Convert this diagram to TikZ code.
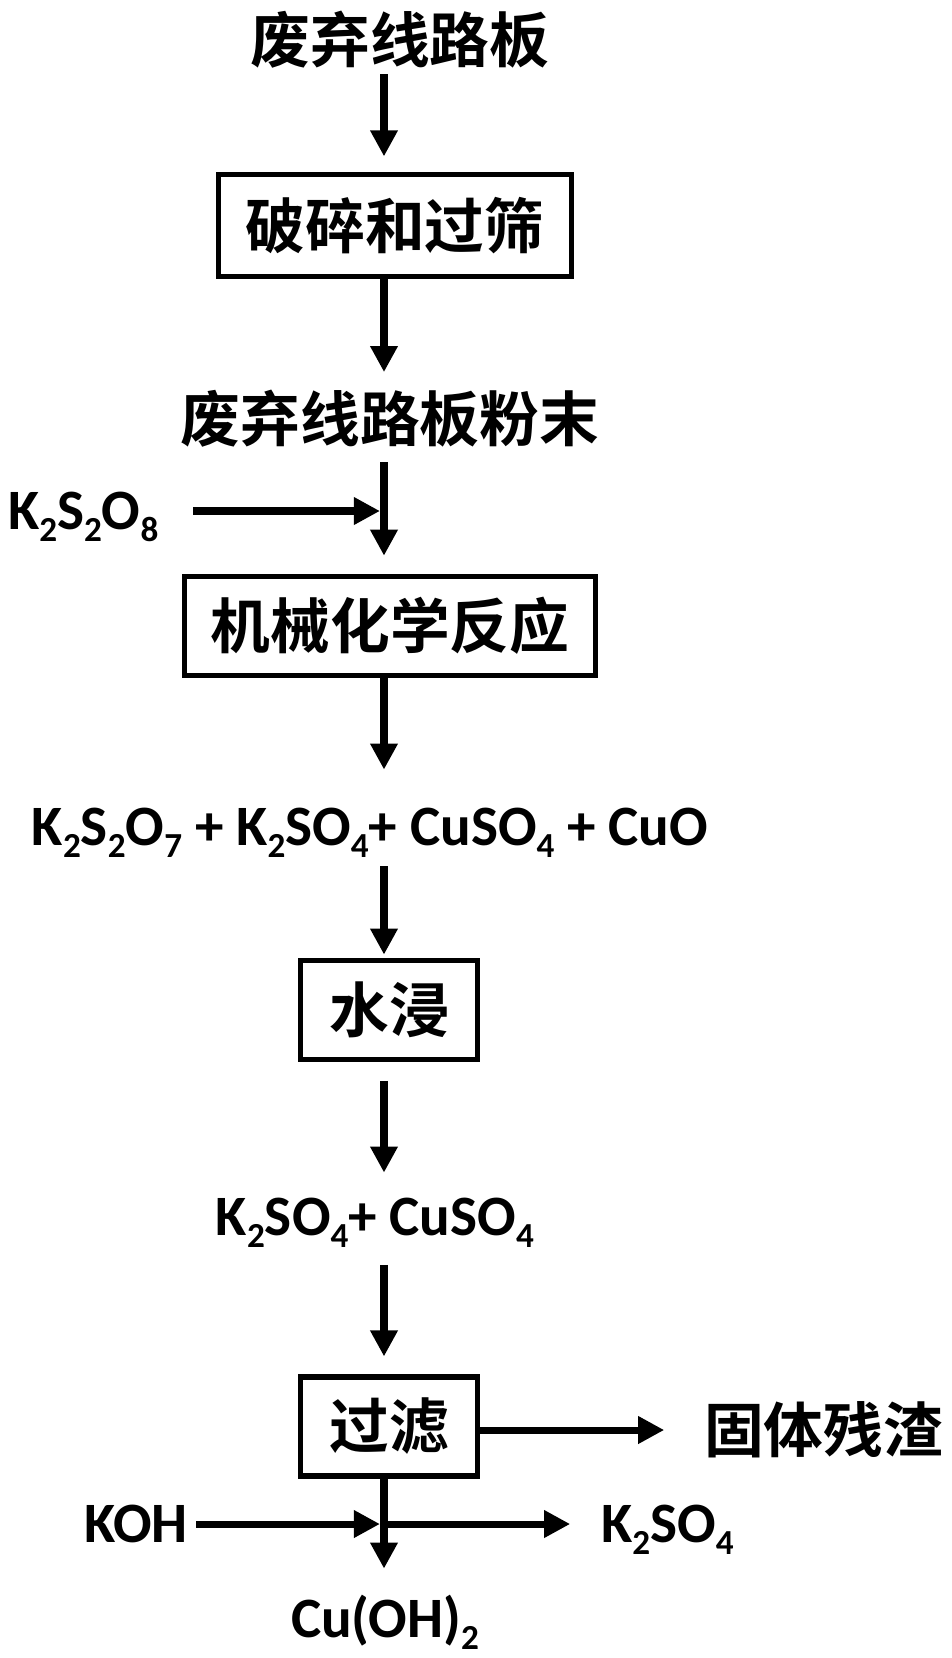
\documentclass[tikz,border=0pt]{standalone}
\usepackage{fontspec}
\setmainfont{Carlito}
\newfontfamily\cjk{Noto Sans CJK SC}[BoldFont={Noto Sans CJK SC Bold}]
\usetikzlibrary{positioning,arrows.meta}
\newcommand{\sub}[1]{\raisebox{-0.21em}{\fontsize{20}{20}\selectfont #1}}
\tikzset{
  stagebox/.style={draw,line width=3pt,inner sep=1pt,
                   font=\cjk\bfseries\fontsize{34}{36}\selectfont},
  zh/.style={inner sep=1pt,font=\cjk\bfseries\fontsize{34}{36}\selectfont},
  chem/.style={inner sep=1pt,font=\bfseries\fontsize{32.5}{36}\selectfont},
  edge/.style={-{Triangle[length=0.52cm,width=0.52cm]},line width=4pt},
}
\begin{document}
\begin{tikzpicture}[x=0.02cm,y=-0.02cm]
\useasboundingbox (0,0) rectangle (951,1658);
\coordinate (spine) at (384,0);

\node[zh] (board) at (400,40) {废弃线路板};
\node[stagebox,minimum width=7.06cm,minimum height=2.04cm] (crush) at (395,225.5) {破碎和过筛};
\node[zh] (powder) at (390,419) {废弃线路板粉末};
\node[chem,anchor=base west] (kps) at (6,529.5) {K\sub{2}S\sub{2}O\sub{8}};
\coordinate (kfrom) at (193,511);
\coordinate (kin) at (384,511);
\node[stagebox,minimum width=8.22cm,minimum height=1.99cm] (mech) at (390,626) {机械化学反应};
\node[chem,anchor=base] (mix) at (370,845) {K\sub{2}S\sub{2}O\sub{7} + K\sub{2}SO\sub{4}+ CuSO\sub{4} + CuO};
\node[stagebox,minimum width=3.54cm,minimum height=1.99cm] (leach) at (389,1010) {水浸};
\node[chem,anchor=base] (sol) at (375,1235) {K\sub{2}SO\sub{4}+ CuSO\sub{4}};
\node[stagebox,minimum width=3.54cm,minimum height=1.98cm] (filt) at (389,1426.5) {过滤};
\node[zh,anchor=west] (resid) at (702,1430) {固体残渣};
\node[chem,anchor=base east] (koh) at (190,1542) {KOH};
\coordinate (kohfrom) at (196,1524);
\coordinate (kohin) at (384,1524);
\node[chem,anchor=base west] (kso) at (599,1542) {K\sub{2}SO\sub{4}};
\node[chem,anchor=base] (cuoh) at (385,1637) {Cu(OH)\sub{2}};

% main line
\draw[edge,shorten <=2pt,shorten >=8.8pt] (board.south -| spine) -- (crush.north -| spine);
\draw[edge,shorten >=9.2pt] (crush.south -| spine) -- (powder.north -| spine);
\draw[edge,shorten <=7pt,shorten >=10.2pt] (powder.south -| spine) -- (mech.north -| spine);
\draw[edge,shorten >=2.3pt] (kfrom) -- (kin);
\draw[edge,shorten >=20.4pt] (mech.south -| spine) -- (mix.north -| spine);
\draw[edge,shorten <=4pt,shorten >=1.7pt] (mix.south -| spine) -- (leach.north -| spine);
\draw[edge,shorten <=10.5pt,shorten >=13pt] (leach.south -| spine) -- (sol.north -| spine);
\draw[edge,shorten <=9pt,shorten >=10.2pt] (sol.south -| spine) -- (filt.north -| spine);
\draw[edge,shorten >=21.5pt] (filt.east |- resid) -- (resid.west);
\draw[edge,shorten >=13.6pt] (filt.south -| spine) -- (cuoh.north -| spine);
% KOH in, K2SO4 out
\draw[edge,shorten >=2.3pt] (kohfrom) -- (kohin);
\draw[edge,shorten >=16.4pt] (kohin) -- (kso.west |- kohin);
\end{tikzpicture}
\end{document}
